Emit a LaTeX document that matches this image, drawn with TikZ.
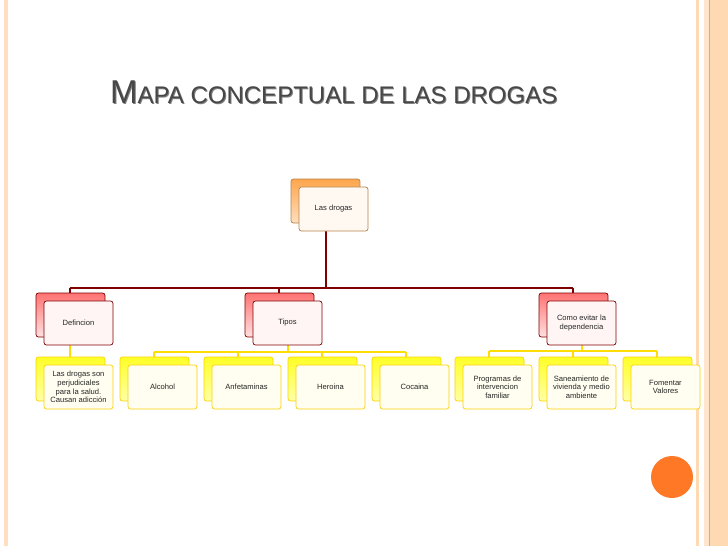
\documentclass[tikz,border=0pt]{standalone}
\usepackage{fontspec}
\setmainfont{Liberation Sans}
\colorlet{oA}{orange!70}\colorlet{oB}{orange!25!white}\colorlet{oE}{orange!60!black!70}\colorlet{oF}{orange!5!white}
\colorlet{rA}{red!55}\colorlet{rB}{red!12!white}\colorlet{rE}{red!50!black}\colorlet{rF}{red!4!white}
\colorlet{yA}{yellow!85}\colorlet{yB}{yellow!35!white}\colorlet{yE}{yellow!70!orange}\colorlet{yF}{yellow!6!white}
\begin{document}
\begin{tikzpicture}[x=1pt,y=-1pt,
  box/.style={draw=#1,line width=0.7pt,rounded corners=2.5pt},
  txt/.style={font=\fontsize{7.6}{8.6}\selectfont,align=center,text=black!85},
]
\useasboundingbox (0,0) rectangle (728,546);
\fill[white] (0,0) rectangle (728,546);
% borders
\fill[orange!25!white] (4,0) rectangle (8,546);
\fill[orange!30!white] (696,0) rectangle (699,546);
\fill[orange!20!white] (704,0) rectangle (709,546);
\fill[orange!70!red!60] (709,0) rectangle (710,546);
\fill[orange!30!white] (710,0) rectangle (728,546);
% title
\node[anchor=base west,text=black!50,inner sep=0] at (111,104)
 {\fontsize{33}{34}\selectfont M\fontsize{24}{25}\selectfont APA CONCEPTUAL DE LAS DROGAS};
\node[anchor=base west,text=black!72,inner sep=0] (title) at (110,103)
 {\fontsize{33}{34}\selectfont M\fontsize{24}{25}\selectfont APA CONCEPTUAL DE LAS DROGAS};
\fill[orange!75!red!85] (672,477) circle (21);
% connectors
\coordinate (top) at (326,231);
\coordinate (j1) at (326,288);
\coordinate (dL) at (70,288);
\coordinate (dR) at (573,288);
\draw[red!50!black,line width=1.3pt] (top) -- (j1) (dL) -- (dR)
  (70,288) -- (70,293) (279,288) -- (279,293) (573,288) -- (573,293);
\draw[yellow!80!orange,line width=1.2pt]
  (70,345) -- (70,357)
  (288,345) -- (288,352) (154,352) -- (406,352)
  (154,352) -- (154,357) (238,352) -- (238,357) (322,352) -- (322,357) (406,352) -- (406,357)
  (582,345) -- (582,351) (489,351) -- (657,351)
  (489,351) -- (489,357) (573,351) -- (573,357) (657,351) -- (657,357);
\newcommand{\cbox}[5]{% name, x, y, prefix, text
  \draw[box=#4E, top color=#4A, bottom color=#4B] (#2-8,#3-8) rectangle (#2+61,#3+36);
  \draw[box=#4E, fill=#4F] (#2,#3) rectangle (#2+69,#3+44);
  \node[txt] (#1) at (#2+34.5,#3+22) {#5};}
\cbox{root}{299}{187}{o}{Las drogas}
\cbox{def}{44}{301}{r}{Defincion}
\cbox{tip}{253}{301}{r}{Tipos}
\cbox{com}{547}{301}{r}{Como evitar la\\dependencia}
\cbox{l1}{44}{365}{y}{Las drogas son\\perjudiciales\\para la salud.\\Causan adicción}
\cbox{l2}{128}{365}{y}{Alcohol}
\cbox{l3}{212}{365}{y}{Anfetaminas}
\cbox{l4}{296}{365}{y}{Heroina}
\cbox{l5}{380}{365}{y}{Cocaina}
\cbox{l6}{463}{365}{y}{Programas de\\intervencion\\familiar}
\cbox{l7}{547}{365}{y}{Saneamiento de\\vivienda y medio\\ambiente}
\cbox{l8}{631}{365}{y}{Fomentar\\Valores}
\end{tikzpicture}
\end{document}
